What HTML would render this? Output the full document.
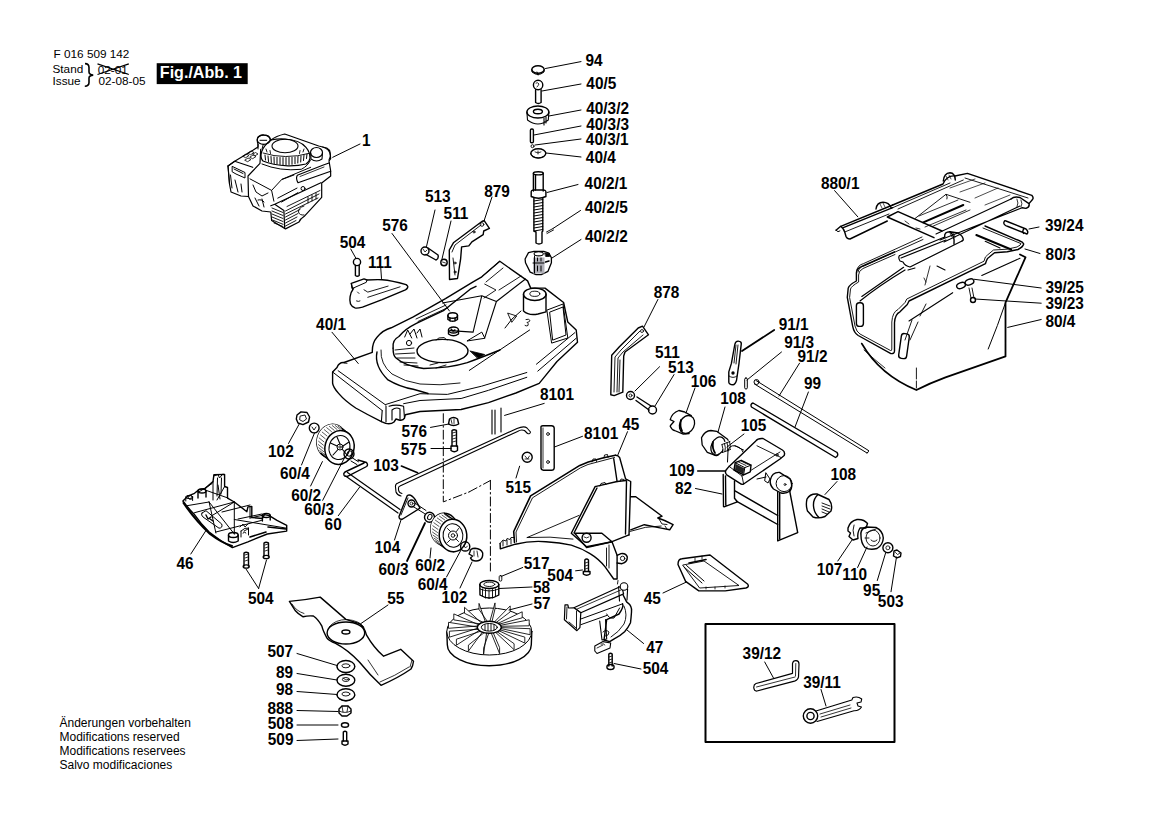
<!DOCTYPE html>
<html><head><meta charset="utf-8"><title>Parts diagram</title>
<style>
html,body{margin:0;padding:0;background:#fff;}
body{width:1168px;height:825px;overflow:hidden;position:relative;}
svg{position:absolute;left:0;top:0;}
</style></head><body>
<svg width="1168" height="825" viewBox="0 0 1168 825">
<g fill="none" stroke="#000" stroke-width="1.4" stroke-linejoin="round" stroke-linecap="round">
<!-- toolbox -->
<rect x="705.5" y="624" width="189" height="118" stroke-width="2"/>

<!-- ENGINE (1) -->
<g id="engine" stroke-width="1.1">
<!-- silhouette -->
<path d="M228,166 L234.7,161.3 L253.3,150 L258,147 L258,144.3 Q256.5,140 258,137 Q261,134.5 264,135 Q269.5,135 270.3,139 L271,140 Q276,136 284.7,134 L318.7,146 L326.7,148 Q330,150 330,152 L330.7,158.7 L329,161 L330.6,170.4 L330.7,176 L321.7,183 L321.7,197.3 L304,216.6 Q300,219 299,222 L285.5,228.9 L271.6,220.5 L270.8,212 L262,211 L253,206 L248.5,196.5 L241,196 L231,192 L229.5,184 Z" stroke-width="1.2"/>
<!-- oil cap -->
<ellipse cx="263.7" cy="139.7" rx="6.5" ry="4.6" stroke-width="1.2"/>
<path d="M260,140.3 L266.7,140.3 M258,144.3 L258,149 M263.3,144.3 L262,149" stroke-width="1"/>
<!-- top-left edge and grille -->
<path d="M228,166 L234.7,161.3 L252.7,167.3 M260.7,149.3 L260,163.3 L248,176 L248.5,196.5" stroke-width="1.2"/>
<path d="M243,156 l3,-2 l3,1.5 l-3,2 Z M248,153 l3,-2 l3,1.5 l-3,2 Z M245,160 l3,-2 l3,1.5 l-3,2 Z M250,157 l3,-2 l3,1.5 l-3,2 Z M253,154 l2.5,-1.5 l2.5,1.5 l-2.5,1.5 Z" stroke-width="0.8"/>
<!-- left box (air filter) -->
<path d="M228,166 L229.5,184 M232.5,166.5 L245,172.5 L245,178 L236,174 L232.5,172 Z M234,169 L243,173.5 M230.5,175 L232,188 M235,180 L238,192 M241,184 l1,8" stroke-width="1"/>
<!-- starter -->
<path d="M271,140 Q278,138.5 285,139 Q300,140 306,147.3 Q310,152 310,158 Q309.5,162 306,164 Q298,166 288,165.8 Q272,165 263,161 Q260,158 261.5,152 Q264,145 271,140 Z" stroke-width="1.2"/>
<ellipse cx="285" cy="146" rx="13" ry="6.8" stroke-width="1.1"/>
<path d="M263,153 Q285,160 309.5,153.3" stroke-width="0.9"/>
<path d="M265,155 l0.5,5 M268,156 l0.5,5.5 M271,156.5 l0.3,6 M274,157 l0.2,6.5 M277,157.3 l0,6.7 M280,157.5 l0,7 M283,157.6 l0,7 M286,157.6 l0,7 M289,157.5 l0,7 M292,157.3 l0,7 M295,157 l0,6.7 M298,156.5 l-0.2,6.5 M301,156 l-0.3,6 M304,155 l-0.5,5.5 M307,154 l-0.5,4.5" stroke-width="1"/>
<path d="M266,149 l1,3 M270,150.5 l0.5,3 M300,150.5 l-0.5,3 M304,149 l-1,3" stroke-width="0.9"/>
<path d="M262,164 Q280,171.5 301.3,169.3 Q308,166 310.5,160" stroke-width="1"/>
<!-- right cap -->
<ellipse cx="316.5" cy="152.5" rx="6" ry="5" stroke-width="1.2"/>
<path d="M310.7,153 L311,159 Q316.5,163 322,159 L322.5,153 M322.7,147 Q330,149 330.5,156 L329,160" stroke-width="1.1"/>
<!-- handle bar -->
<path d="M297.3,175.3 L322.7,165.3 M298,182.7 L330.7,171.3 M297.3,175.3 Q295.5,178 298,182.7 M322.7,165.3 L329,163" stroke-width="1.2"/>
<path d="M300,176.5 L324,167" stroke-width="0.8"/>
<!-- block edges -->
<path d="M250,178.9 L271.6,190.4 L273.9,201.2 M271.6,190.4 L281.6,179.6 L294,175 M282,179.3 L310.7,167.3" stroke-width="1"/>
<path d="M277.8,198.1 L297,188.1 M281.6,202 L297.8,192.7" stroke-width="1"/>
<circle cx="303" cy="188.5" r="2" stroke-width="1"/>
<!-- cylinder head front -->
<path d="M270.8,205.8 L274.7,204.3 L283.9,210.4 L284.7,228.2 M274.7,204.3 L320.9,182.7" stroke-width="1.2"/>
<path d="M272,208 l11,4.5 M272,211 l11,4.5 M272,214 l11,4.5 M272,217 l11,4.5 M272.5,220 l10.5,4.3 M274,223 l9,3.5" stroke-width="0.9"/>
<path d="M285.5,211 L319,194 M285.5,214 L318,198 M285.5,217 L300,209.5 M285.5,220 L298,213.5 M285.5,223 L297,217 M285.5,226 L296,220.5 M287,206.5 L320,190.5" stroke-width="0.9"/>
<path d="M304,206 Q298,208 298.5,212 Q299.5,215.5 304,215 M308,197 l0,6 M312,195 l0,6 M316,193 l0,6" stroke-width="0.9"/>
<!-- lower left crankcase details -->
<path d="M253,185 L256,192 L262,196 L268,193 M255,198 L259,206 M262,199 L264,207 M258,200 q4,-1 6,2" stroke-width="1"/>
</g>
<!-- DECK 40/1 -->
<g id="deck">
<!-- outer outline -->
<path d="M332.6,372 L337,367.5 Q339,362 344,362.5 L372.3,352.3 Q372,343 377,337.3 Q383,330 391.2,327.8 L413.3,316.8 L445.5,298.6 L473.1,281.9 L481.8,276.8 L499.8,261.3 L527.6,280.9 L530.7,288.1 L545,288.1 L563.6,302.5 L567.8,322.1 L576.2,330 L577.5,342.3 L557,361.5 L544.7,376.6 L539.2,383.4 L515.9,393 L488.5,402.6 L461.1,409.5 L420,411.5 L405.3,414.8 L404.5,418.2 Q403,421 399,420 L396,419 L394,422 Q391,424.5 385.7,423.4 L381.4,421.6 Q368,415 355.7,408 Q345,401 338.6,393.4 Q333,387 332.6,383.1 Z" stroke-width="1.4"/>
<!-- skirt lines -->
<path d="M332.6,372 L382.2,410.5 M338.1,370.7 L385.7,405 M385.7,404.5 L420,393.7 L447.4,394.4 L481.6,386.2 L526.8,372.5 M403.6,403.7 L420,400.5 L461.1,398.5 L488.5,390.3 L526.8,377.3 M536.4,364.2 L574.8,332.7 M537.8,371.1 L576.2,338.2 M469.3,370.4 L529.6,330" stroke-width="1"/>
<!-- hinge -->
<path d="M382.2,410.5 L381.4,421.6 M386,406 L386,422 M389,406.2 Q396,404 403.6,406.2 L404.5,418.2 M392,420 L392,410 Q396,406.5 400,409 L400,419.5" stroke-width="1.1"/>
<!-- top lines -->
<path d="M344,363 L347,363.3 M416,319 L446,305 M418,321.5 L448,307.5" stroke-width="0.9"/>
<!-- inner dome ring -->
<path d="M393.1,348.1 Q392,340 398.9,336.5 Q405,329 416.4,323.4 L444,310.3 L470.2,289.2 L476,286.3"/>
<path d="M393.1,348.1 Q393,356 396,358 Q405,366 423.6,368.5 Q450,368 467.3,362.6 Q480,358 500,350"/>
<path d="M377,352 Q374,366 388,379.9 Q400,387 413.3,389.3 Q420,391 428,393.5"/>
<path d="M381,350 Q380,364 392,374 Q405,382 420,384 Q440,386 460,383" stroke-width="0.9"/>
<!-- fan opening -->
<ellipse cx="442.5" cy="351" rx="25.5" ry="11.6"/>
<path d="M436,340 Q438,337 444,337.5 L447,340" stroke-width="0.9"/>
<path d="M395,350 l19,-2 M395.5,354 l19,-1 M397,358 l18,0 M400,362 l17,1 M404,365 l14,1" stroke-width="0.9"/>
<path d="M404.7,337 l3,-7 l4,8 M410,334 l4,-5 l3,9 M417,333 l3,-4 l2,8" stroke-width="1"/>
<circle cx="409" cy="343" r="2.6" stroke-width="1"/>
<path d="M470.2,351 L484.7,354.5 L478,358.3 Z" fill="#000" stroke-width="0.8"/>
<path d="M430,365 l8,-2 M436,368 l10,-3" stroke-width="0.9"/>
<!-- chute channel -->
<path d="M442.5,303 L481.8,295.7 L496.4,301.5 L525.5,279 M481.8,295.7 L473.1,332.1 M496.4,301.5 L484.7,337.9 M449.8,330.6 L473.1,332.1" stroke-width="1.1"/>
<path d="M467.3,340.8 L481.8,332.1 L484.7,337.9 Z" stroke-width="1"/>
<path d="M481.8,276.8 L499.3,261.5 M486,282 L503,268 M499,290 L521,276 M484.7,284.1 L496,290 L484,298" stroke-width="0.9"/>
<path d="M508,313.2 L516.7,316 L512,322 Z" stroke-width="0.9"/>
<path d="M526,319.5 q3,-1 4,1 q-1,2 -3,2 q2,1 1,3 q-2,1 -3,0" stroke-width="0.9"/>
<!-- boss -->
<ellipse cx="534.8" cy="294.3" rx="11.3" ry="6.2"/>
<ellipse cx="534.8" cy="293.8" rx="5" ry="2.6" stroke-width="0.9"/>
<path d="M523.5,294.3 L523.5,311 Q529,316 538,314 L546,311.8 L546,294.3"/>
<path d="M521,311 L512,319 L505,328" stroke-width="1"/>
<!-- right window -->
<path d="M547.2,310 L563,304 L567.8,338 L552,343 Z M550,312 L563,307 L566,335 L553,340 Z" stroke-width="1"/>
<!-- long surface lines -->
<!-- nuts on deck -->
<ellipse cx="452.7" cy="315.5" rx="4.8" ry="2.8"/>
<path d="M447.9,315.5 L447.9,319.5 Q452.7,323 457.5,319.5 L457.5,315.5 M450,318 l0,3 M455,318 l0,3"/>
<ellipse cx="453.5" cy="330" rx="5" ry="3"/>
<path d="M448.5,330 L448.5,334 Q453.5,337.5 458.5,334 L458.5,330 M451,329 l2,2 l2,-1"/>
</g>
<!-- GRASS CATCHER -->
<g id="bag">
<!-- top plate / frame 880/1 -->
<path d="M892.7,205 L943,184 Q947,175 955,176 L967.4,173.4 L1031.8,195.3 Q1034,198 1032.5,199.5 L1029,203.6"/>
<path d="M892.7,207.7 L950,183 M898,209 L963.3,180 M965,178 L1028,198" stroke-width="0.9"/>
<path d="M943.3,181 Q944,173 950,172.7 Q955,173 955.3,180" />
<path d="M946,176 l2,4 M949,175 l2,4" stroke-width="0.7"/>
<!-- left rail (handle channel) -->
<path d="M836,230.3 L840.7,226.3 L892.7,205 M843.3,227.7 L892.7,207.7 M840.7,226.3 Q844,229 844.7,232 L846,236.5 Q847,239 850,239 L887.3,221" />
<path d="M844.7,232 L889,214" stroke-width="0.9"/>
<path d="M836,230.3 Q838,233 840,231" stroke-width="1"/>
<path d="M876,209 Q877,202.3 883,202.3 Q889,202.3 891.3,208" />
<path d="M880,204 l2,4 M883,203 l2,4" stroke-width="0.7"/>
<!-- cross piece -->
<path d="M887.3,217 L934,237.7 M898,211.7 L942,231 M887.3,217 L898,211.7" />
<path d="M905,221 L909,224 M916,228 L920,229" stroke-width="0.8"/>
<!-- inner plate -->
<path d="M915.3,218.3 L946,194.3 L970,202.3 M946,194.3 Q948,197 947,199" stroke-width="0.9"/>
<path d="M923.3,222.3 L963.3,205" stroke-width="2"/>
<path d="M919,216 L958,200 M925,227 L966,210 M932.7,226.3 L970,210" stroke-width="0.8"/>
<path d="M960,192 L985,183 M975,198 L998,188 M985,205 L1010,195 M950,188 L975,179" stroke-width="0.7"/>
<!-- front rail (upper long) -->
<path d="M936,234 L1011,199 M940,240 L1022.2,207.7 M944,242 L1020,206" stroke-width="1.1"/>
<path d="M1011,199 Q1014,196 1020,197.5 L1029,203.6 Q1030,207 1026,208.4 L1022.2,207.7" />
<path d="M1017,199 q2,4 0,8 M1021,200 q2,4 0,7" stroke-width="0.8"/>
<!-- front handle tube (lower) -->
<path d="M899.3,255.7 L944.7,237 M901,258 L946,240 M910,267 L962,241 M899.3,255.7 Q898,258 900,261 L903,262 Q905,266 910,267" stroke-width="1.2"/>
<path d="M944.7,237 Q944,231.7 950,231.7 L958,233 Q963.3,236 963.3,240 L962,241 M950,231.7 Q955,236 954,244" />
<path d="M950,233 l2,4 M953,233 l2,4" stroke-width="0.8"/>
<!-- lower-left wire -->
<path d="M856.7,270.3 Q858,265 863.3,263.7 L922,237 M858,272 Q859,267 864,266 L923,239.5" stroke-width="0.9"/>
<!-- 39/24 pin -->
<path d="M1006,221 L1026,229 Q1029,232 1027,234 L1008,226.5 Q1003,225 1004,222 Q1005,220 1006,221 Z M1024,228.5 Q1022,231 1023.5,233.5" />
<!-- wire frame 80/3 -->
<path d="M894.5,251.8 L861.8,266.4 Q856,269 856.4,273.6 L856.4,281 Q849,285 848.2,288.2 L847.3,297.3 L852.7,326.4 Q854,333 858.2,335.5 L890.9,353.6 Q894.5,354 894.5,351 L894.5,322.7 Q895,314 900,311.8 L907.3,304.5 L909,301 L985.5,263.6 Q987,258 989,257.3 L994.5,252.7 L1007.3,251.8 L1018,249.5 Q1023,247 1023.7,244 Q1023,242 1020,241 L985,226" />
<path d="M895,254.5 L863,268.5 Q858.5,271 858.6,275 L858.6,282 Q851.5,286 850.5,289 L849.6,297.5 L855,326 Q856.5,332 860,334 L890.5,350.5 Q891.8,351 891.8,349 L891.8,322 Q892.5,312 898,309.5 L905,302.5 L906.8,299 L984,261.2 Q985,256 987.5,255 L993.5,250 L1007,249.2 L1017,247 Q1021,245 1021,243.6 L983,228" stroke-width="0.9"/>
<!-- tubes on wire -->
<rect x="856.4" y="302.7" width="7" height="23.7" rx="3"/>
<rect x="900" y="333.6" width="8" height="25" rx="3" transform="rotate(8 904 346)"/>
<!-- bag body -->
<path d="M861.8,343.6 Q880,375 916.4,390 Q930,383 945.5,377.3 L1005.5,356.4 L1005.5,302.7 L1025.5,257.3 L1020,254.5" stroke-width="1.8"/>
<path d="M1005.5,302.7 Q998,325 988.2,349" stroke-width="1"/>
<path d="M861.8,296.4 L903.6,267.3 M860,301 Q880,285 905,270" stroke-width="1.2"/>
<path d="M909,321 L952.7,292.7 M981.8,275.5 L1020,258.2 M908,270 L915,268 M937,266 L945,270 M985.2,241.2 L1000,248" stroke-width="1.1"/>
<path d="M916.4,368 L916.4,379 M916.4,381 L916.4,388 M912,320 L905,340 M918,322 L910,340 M926,304 L920,316" stroke-width="0.9"/>
<path d="M864,350 Q875,360 885,368 M930,266 L925,285 M924,278 L926,282" stroke-width="0.8"/>
<path d="M976.3,235 L1011.2,249.5" stroke-width="1.9"/>
<!-- clips 39/25 & screw 39/23 -->
<ellipse cx="961" cy="285.5" rx="4.5" ry="2.8" transform="rotate(-20 961 285.5)"/>
<ellipse cx="969.5" cy="282" rx="4.5" ry="2.8" transform="rotate(-20 969.5 282)"/>
<path d="M969,288 L971,298 M972,288 L974,298" stroke-width="0.9"/>
<circle cx="973" cy="300" r="2.5"/>
</g>
<!-- TOP COLUMN 40/x -->
<g id="column">
<!-- 94 cap -->
<ellipse cx="538" cy="69.5" rx="6.2" ry="3.8"/>
<path d="M531.8,69.5 L532,72 Q538,77 544,72 L544.2,69.5 M537,72 l1,3" stroke-width="1"/>
<!-- 40/5 bolt -->
<circle cx="538.1" cy="85" r="4.7"/>
<path d="M536,83 q2,-1 3,1 q-1,2 -2,3" stroke-width="0.8"/>
<path d="M535.6,89.7 L535.6,102.5 Q538.3,104.5 541.1,102.5 L541.1,89.7"/>
<!-- 40/3/2 nut -->
<ellipse cx="537.9" cy="112" rx="11" ry="6"/>
<ellipse cx="537.9" cy="111.5" rx="4.5" ry="2.3"/>
<path d="M526.9,112 L527.5,120 Q537.9,128 548.3,120 L548.9,112 M544,118 L544,125 M546,117 L546,123" stroke-width="1.1"/>
<!-- 40/3/3 pin -->
<rect x="530.4" y="129" width="3" height="13.7" rx="1.3"/>
<!-- 40/3/1 -->
<circle cx="532.5" cy="146.2" r="1.5" stroke-width="0.9"/>
<!-- 40/4 washer -->
<ellipse cx="538.3" cy="153.3" rx="7.5" ry="4.6"/>
<path d="M535,152 q3,2 6,0 M538,151 l0,3" stroke-width="0.8"/>
<path d="M530.8,153.5 Q531,157 538.3,158.3 Q545.6,157 545.8,153.5" stroke-width="0.9"/>
<!-- 40/2/1 spindle -->
<ellipse cx="538.3" cy="173.3" rx="4.9" ry="1.6"/>
<path d="M533.4,173.3 L533.4,191 M543.2,173.3 L543.2,191 M535.5,175 L535.5,190" />
<path d="M531.2,192 Q531,190 534,190 L543,190 Q546,190 545.9,192 L545.9,196.5 Q538.5,200 531.2,196.5 Z"/>
<path d="M533.9,198.5 L533.9,231 L536,232 L536,243 Q539,245 542,243 L542,232 L542.8,231 L542.8,198.5"/>
<path d="M534,201 l8.8,-1.5 M534,204 l8.8,-1.5 M534,207 l8.8,-1.5 M534,210 l8.8,-1.5 M534,213 l8.8,-1.5 M534,216 l8.8,-1.5 M534,219 l8.8,-1.5 M534,222 l8.8,-1.5 M534,225 l8.8,-1.5 M534,228 l8.8,-1.5 M534,231 l8.8,-1.5" stroke-width="1"/>
<!-- 40/2/5 pin -->
<path d="M546.5,232 L553,228.5 M547,233.5 L553.5,230" stroke-width="0.9"/>
<!-- 40/2/2 knob -->
<path d="M525.1,259 L528.5,252.6 L534,251.4 L543.8,251.4 L548.8,253 L551.4,257.7 L551.4,262.8 L548,271.3 L541.2,274.7 L536.1,274.7 L530.2,272.1 L525.5,262.8 Z" stroke-width="1.3"/>
<path d="M533,257.5 L544.5,257.5 L544.5,273.5 L533,273.5 Z" fill="#b0b0b8" stroke="none"/>
<ellipse cx="538.7" cy="253.8" rx="4.6" ry="2.1" stroke-width="1.1"/>
<path d="M534.5,256 L534.5,273 M533,263 L544,263 M537.5,258 l0,3 M541,258 l0,3 M537.5,266 l0,5 M541,266 l0,5" stroke-width="1"/>
<path d="M545.5,262 L549,261" stroke-width="1.5"/>
<path d="M545,253 L549.5,253.5 L549.5,256.5 L546,256.5 Z" fill="#000" stroke-width="0.8"/>
</g>

<!-- 879 bracket + 513 + 511 (top) -->
<g id="b879">
<path d="M449.5,279.5 L449.3,250 L453.4,242.8 L482.2,221.2 L484.2,220.7 L489.4,228.4 L483.7,231 L483.2,234.6 L471.9,241.8 L468.8,245.9 L461.6,246.9 L460.6,259.2 L457.5,278.5 Z"/>
<path d="M452,252 L455,245 L481,225 M453,258 L455,275" stroke-width="0.9"/>
<circle cx="482" cy="224.5" r="1.8" stroke-width="0.9"/>
<circle cx="474" cy="232" r="1" stroke-width="0.9"/>
<circle cx="455" cy="263" r="1" stroke-width="0.9"/>
<circle cx="455" cy="272" r="1" stroke-width="0.9"/>
<circle cx="425" cy="251" r="4"/>
<path d="M423,249 l2,3 l2,-2" stroke-width="0.8"/>
<path d="M428,248 L438,255 M426,254.5 L436,260 M436,260 Q439,259 438,255" />
<circle cx="444" cy="262.5" r="3.2"/>
<path d="M442.5,262 l3,1" stroke-width="0.8"/>
<!-- 504 top screw -->
<circle cx="357" cy="262" r="3.6"/>
<path d="M355.4,265.3 L355.4,275.5 Q357.3,277 359.2,275.5 L359.2,265.3" />
</g>

<!-- 111 -->
<path d="M350.5,304.1 Q349.5,299 350.1,296.6 Q350.8,292 352.8,289.8 L351.3,283.4 L364,278.9 L367,280 Q375,279.5 382.1,279.7 Q392,280.5 406.1,284.6 Q408.5,286.5 407.6,287.6 Q407,289 405.4,289.8 L382.1,299.6 L362.5,307.1 Q357,308.5 355,307.9 Q351.5,306.5 350.5,304.1 Z"/>
<path d="M351.3,283.4 L352,288.5 L354.3,287.6 L366.3,282.3 L367,280 M354.3,287.6 L352.8,289.8" stroke-width="1"/>
<path d="M364,289.8 L367.8,292.1 L388.1,286.1 M367.8,297.3 L400.1,286.8" stroke-width="0.9"/>
<path d="M357.5,292 l1.5,1.5 M356.5,301 q2,1 3.5,0" stroke-width="0.9"/>

<!-- 878 bracket -->
<path d="M610.8,394.7 L611.7,355.3 L619.4,346.8 L638.2,328 L642.5,326.2 L648.5,334.8 L625,352 L623.7,356 L622.8,392.2 L614.2,395.6 Z"/>
<path d="M614,392 L615,357 L621,350 L640,331 M617,392 L618,358 L623,352 L643,335 M619,392 L620,360" stroke-width="0.9"/>
<circle cx="642" cy="331" r="1.5" stroke-width="0.8"/>
<!-- 511/513 mid -->
<circle cx="630.5" cy="395.5" r="4"/>
<circle cx="630.5" cy="395.5" r="1.5" stroke-width="0.8"/>
<path d="M637,397 L651,406 M636,400.5 L649,410" />
<circle cx="652.5" cy="410" r="4"/>

<!-- 91/1 lever -->
<path d="M738.2,341.1 Q741.5,341.5 741.3,343.7 L739,363.4 L736.5,380.5 Q735,384.8 733,384.8 Q729,384.5 728.8,382.2 L728.8,371.9 L731.4,363.4 L734.8,344.5 Q735.5,341 738.2,341.1 Z"/>
<path d="M736,345 L734,363 M738,345 L736,364 M729,376 Q733,379 737,376" stroke-width="0.9"/>
<circle cx="733" cy="373" r="1" fill="#000"/>
<!-- 91/3 pin -->
<rect x="744.7" y="378" width="2.6" height="11" rx="1.2" stroke-width="1"/>
<!-- 91/2 rod -->
<path d="M756,380.5 L868.5,450.5 M754.5,384 L867,453 M868.5,450.5 Q869.5,452 867,453" stroke-width="1"/>
<circle cx="756.5" cy="382" r="2.5" stroke-width="1"/>
<!-- 99 rod -->
<path d="M753,403 L837,452.5 M751.5,407 L835.5,457.5 M837,452.5 Q839,455.5 835.5,457.5 M753,403 Q750,404 751.5,407"/>
<!-- 106 -->
<path d="M670.2,419.6 Q672,413 678.9,410.5 L684.7,412 L691.3,415.6 M670.2,419.6 L674,421.5 L670.5,425.5 L670.2,426.2 Q672,430 674.5,430.5 L683.3,434.2 L689.1,433.5" stroke-width="1.3"/>
<ellipse cx="687" cy="424.5" rx="7.2" ry="9.3" transform="rotate(25 687 424.5)" stroke-width="1.3"/>
<path d="M681,420 Q679.5,426 682,431" stroke-width="1.8"/>
<!-- 108 upper -->
<path d="M701.5,437.8 Q705,430.5 710.9,430.5 L716.7,431.3 L727.6,439.3 Q729,441 728.4,441.5 M701.5,437.8 L702.2,445 L707.3,452.4 L715.3,455.3 Q718,456 719,454" stroke-width="1.3"/>
<ellipse cx="718" cy="446" rx="6.5" ry="9.5" transform="rotate(25 718 446)" stroke-width="1.3"/>
<path d="M713,442 Q712,448 715,453" stroke-width="1.8"/>
<path d="M721.5,443 L729,440.5 L731,449 L724,452 Z" fill="#fff" stroke="none"/>
<path d="M722,444.5 q1.5,4 0.5,8 M724.5,443.5 q1.5,4 0.5,8 M727,442.5 q1.5,4 0.5,8 M729.5,441.5 q1.5,4 0.5,7.5 M722,444.5 L730,441.5 M722.5,452.5 L730.5,449.5" stroke-width="0.9"/>
<!-- REAR WHEEL ASSEMBLY -->
<g id="rearwheel">
<!-- 102 nut -->
<path d="M297,415 L301,411.9 L307,412.5 L309.6,417 L308.5,422 L303,424.6 L298,423 L296.3,419 Z"/>
<path d="M300.5,416 L305,415 L306.5,419 L303,421.5 L300,420 Z" stroke-width="0.9"/>
<!-- 60/4 washer -->
<circle cx="314.2" cy="428" r="4.9"/>
<path d="M312,427 l2,3 l2,-3" stroke-width="0.9"/>
<!-- wheel -->
<ellipse cx="331.5" cy="441" rx="14.5" ry="17" transform="rotate(15 331.5 441)" fill="#fff"/>
<polygon points="320.7,453.3 319.9,452.4 319.3,451.4 318.7,450.3 318.1,449.2 317.7,448.0 317.4,446.8 317.1,445.5 316.9,444.3 316.8,442.9 316.8,441.6 316.9,440.3 317.1,439.0 317.4,437.7 317.7,436.4 318.2,435.1 318.7,433.9 319.3,432.7 320.0,431.6 320.8,430.5 321.6,429.5 322.4,428.6 323.4,427.7 324.4,427.0 325.4,426.3 326.5,425.7 327.6,425.2 328.7,424.8 329.8,424.5 331.0,424.3 332.1,424.2 333.3,424.2 334.4,424.3 335.5,424.5 336.6,424.8 337.7,425.2 338.7,425.7 339.7,426.3 340.6,427.0 341.5,427.8 342.3,428.7 350.3,435.2 349.5,434.3 348.6,433.5 347.7,432.8 346.7,432.2 345.7,431.7 344.6,431.3 343.5,431.0 342.4,430.8 341.3,430.7 340.1,430.7 339.0,430.8 337.8,431.0 336.7,431.3 335.6,431.7 334.5,432.2 333.4,432.8 332.4,433.5 331.4,434.2 330.4,435.1 329.6,436.0 328.8,437.0 328.0,438.1 327.3,439.2 326.7,440.4 326.2,441.6 325.7,442.9 325.4,444.2 325.1,445.5 324.9,446.8 324.8,448.1 324.8,449.4 324.9,450.8 325.1,452.0 325.4,453.3 325.7,454.5 326.1,455.7 326.7,456.8 327.3,457.9 327.9,458.9 328.7,459.8" fill="#fff" stroke="none"/>
<path d="M320.7,453.3 L328.7,459.8"/>
<path d="M342.3,428.7 L350.3,435.2"/>
<path d="M321.4,453.5 L326.2,457.4 M319.9,450.8 L324.7,454.7 M318.9,447.8 L323.7,451.7 M318.4,444.6 L323.2,448.5 M318.6,441.3 L323.4,445.2 M319.2,438.0 L324.0,441.9 M320.5,434.9 L325.3,438.8 M322.2,432.1 L327.0,436.0 M324.3,429.7 L329.1,433.6 M326.7,427.7 L331.5,431.6 M329.4,426.4 L334.2,430.3 M332.3,425.6 L337.1,429.5 M335.2,425.5 L340.0,429.4 M338.0,426.0 L342.8,429.9 M340.6,427.2 L345.4,431.1 M342.9,428.9 L347.7,432.8" stroke-width="0.65"/>
<ellipse cx="339.5" cy="447.5" rx="14.5" ry="17" transform="rotate(15 339.5 447.5)" fill="#fff" stroke-width="1.5"/>
<ellipse cx="339.5" cy="447.5" rx="10.4" ry="12.2" transform="rotate(15 339.5 447.5)" stroke-width="1"/>
<circle cx="340" cy="447" r="3" stroke-width="1"/>
<circle cx="340" cy="447" r="1.2" stroke-width="0.8"/>
<path d="M340,444 L337,437 M343,446 L349,442 M342.5,449.5 L347,455 M338,449.5 L333,455 M337,446 L330.5,443" stroke-width="1.1"/>

<!-- 60/3 bushing -->
<circle cx="349" cy="454" r="5"/>
<ellipse cx="349.5" cy="453.5" rx="2.2" ry="2.8" transform="rotate(30 349.5 453.5)" stroke-width="1"/>
<!-- axle 60 -->
<path d="M352.5,458 L358.5,461.8 M351,461 L357,464.6" stroke-width="1"/>
<path d="M358,460 L366.5,462.5 Q368.5,465 366.6,466.5 L347.5,476.3 Q343.5,477 343.8,473.5 L345,472 L364,463"/>
<path d="M345.5,476 L398,513 M347.5,472.5 L400,509.5" stroke-width="1.2"/>
</g>

<!-- 46 chassis -->
<g id="chassis46">
<path d="M182.9,501 Q188,508 194.5,514.6 Q201,524 209.1,532.1 Q220,541 232.4,547.6 L247.9,541.8 L267.3,534 L286.7,531.1 L286.7,525.3 L277,520.4 L269.2,515.6 L264.4,514.6 L262.4,518.5 L251.8,517.5 L251.8,506.4 L247.9,506.9 L246.9,511.7 L234.3,502 L227.5,498.1 L227.5,487.5 L224.6,486.5 L224.6,474.4 L213.9,474.8 L213,481.6 L205.2,488.4 L199.4,489.4 L194.5,493.3 L187.8,496.2 Z"/>
<path d="M183.5,503 Q195,520 210,534 Q222,543 232,546" stroke-width="2"/>
<path d="M185.8,505.9 L209.1,502 M194.5,512.7 L234.3,502 M209.1,502 L215.9,533 M234.3,502 L234.3,534 M215.9,532 L261.5,520.4 M234.3,519.5 L286.7,528.2 M213,481.6 L213,500 M224.6,486.5 L217,500 M205,490 L228,498 M218,485 L220,499 M250,518 L264,515" stroke-width="1"/>
<path d="M202,513 L206,510.7 L221.7,524 Q223,528 219,528.2 L203,517 Q200.5,515 202,513 Z" stroke-width="1"/>
<path d="M206,515 l2,4 l3,-2 M210,519 l3,2" stroke-width="1.4"/>
<path d="M228.5,535 L228.5,541 Q233,544 238.2,541 L238.2,535" />
<ellipse cx="233.3" cy="535" rx="4.8" ry="2.5"/>
<ellipse cx="266.3" cy="515.5" rx="3.9" ry="2"/>
<path d="M262.4,515.5 L262.4,521 M270.2,515.5 L270.2,520" />
<ellipse cx="202" cy="491" rx="4" ry="2"/>
<path d="M198,491 L198,498 M206,491 L206,497" />
<circle cx="190.5" cy="497.5" r="2" stroke-width="0.9"/>
<path d="M240,527 l3,-3 l2,3 l3,-3 M244,531 l4,-2" stroke-width="0.9"/>
<path d="M268,527 L286,529 M250,537 L266,532" stroke-width="1.6"/>
<path d="M217.5,478 L217,496 M221.5,478 L221,494 M213.5,476 L218,474.5 L219.5,478 L222.7,474 M212,483.6 L198.4,492.3 M209.1,502 L234.3,534 M212,515.6 L234.3,502 M222,512 L250,505 M238,519 L262,514 M250,507 L250,518" stroke-width="1"/>
<ellipse cx="189.2" cy="497" rx="3.4" ry="1.6" stroke-width="1"/>
<path d="M185.8,497 L185.8,501 M192.6,497 L192.6,500.5" stroke-width="1"/>
<path d="M241,531 L241,537 M248.5,528 L248.5,535 M241,531 Q245,527 248.5,528 M243,533 q2,-2 3,0" stroke-width="1"/>
</g>
<!-- 504 screws (left) -->
<path d="M244,553 L244,566 M248.5,553 L248.5,566 M244,553 Q246,551.5 248.5,553" />
<ellipse cx="246.2" cy="566.5" rx="3" ry="1.6"/>
<path d="M245,555 l3,-1 M245,558 l3,-1 M245,561 l3,-1" stroke-width="0.8"/>
<path d="M264,543 L264,556 M268.5,543 L268.5,556 M264,543 Q266,541.5 268.5,543" />
<ellipse cx="266.2" cy="557" rx="3" ry="1.6"/>
<path d="M265,545 l3,-1 M265,548 l3,-1 M265,551 l3,-1" stroke-width="0.8"/>

<!-- 104 bracket -->
<path d="M399,516.4 L407.3,495.5 Q411,493.5 415.5,500 L420,508.2 L402.7,519 Q399,520 399,516.4 Z"/>
<path d="M401,515 L408,498" stroke-width="0.9"/>
<circle cx="411.5" cy="503.5" r="3.5"/>
<circle cx="411.5" cy="503.5" r="1.5" stroke-width="0.8"/>
<path d="M413,506.5 L424.5,513.5 M415.5,503.5 L426,510.5" stroke-width="1"/>
<!-- front wheel 60/3, 60/2, 60/4, 102 -->
<circle cx="429.5" cy="517.3" r="5"/>
<ellipse cx="429.8" cy="517" rx="2" ry="2.8" transform="rotate(30 429.8 517)" stroke-width="1"/>
<ellipse cx="444.5" cy="529.5" rx="13.8" ry="16.3" transform="rotate(-5 444.5 529.5)" fill="#fff"/>
<polygon points="444.7,545.8 443.6,545.7 442.6,545.5 441.5,545.3 440.4,544.9 439.4,544.5 438.4,543.9 437.5,543.3 436.6,542.5 435.7,541.7 434.9,540.9 434.1,539.9 433.4,538.9 432.8,537.8 432.3,536.7 431.8,535.5 431.4,534.3 431.1,533.1 430.9,531.8 430.7,530.6 430.7,529.3 430.7,528.0 430.8,526.7 431.0,525.5 431.3,524.3 431.6,523.1 432.1,521.9 432.6,520.8 433.2,519.8 433.9,518.8 434.6,517.8 435.4,517.0 436.2,516.2 437.1,515.5 438.0,514.9 439.0,514.4 440.0,513.9 441.1,513.6 442.1,513.4 443.2,513.3 444.3,513.2 452.8,519.2 451.7,519.3 450.6,519.4 449.6,519.6 448.5,519.9 447.5,520.4 446.5,520.9 445.6,521.5 444.7,522.2 443.9,523.0 443.1,523.8 442.4,524.8 441.7,525.8 441.1,526.8 440.6,527.9 440.1,529.1 439.8,530.3 439.5,531.5 439.3,532.7 439.2,534.0 439.2,535.3 439.2,536.6 439.4,537.8 439.6,539.1 439.9,540.3 440.3,541.5 440.8,542.7 441.3,543.8 441.9,544.9 442.6,545.9 443.4,546.9 444.2,547.7 445.1,548.5 446.0,549.3 446.9,549.9 447.9,550.5 448.9,550.9 450.0,551.3 451.1,551.5 452.1,551.7 453.2,551.8" fill="#fff" stroke="none"/>
<path d="M444.7,545.8 L453.2,551.8"/>
<path d="M444.3,513.2 L452.8,519.2"/>
<path d="M445.1,546.9 L450.2,550.5 M442.4,546.2 L447.5,549.8 M439.9,545.0 L445.0,548.6 M437.6,543.1 L442.7,546.7 M435.7,540.9 L440.8,544.5 M434.1,538.2 L439.2,541.8 M433.0,535.2 L438.1,538.8 M432.5,532.1 L437.6,535.7 M432.4,528.9 L437.5,532.5 M432.9,525.8 L438.0,529.4 M433.9,522.8 L439.0,526.4 M435.4,520.2 L440.5,523.8 M437.3,518.0 L442.4,521.6 M439.5,516.2 L444.6,519.8 M442.0,515.1 L447.1,518.7 M444.6,514.5 L449.7,518.1" stroke-width="0.65"/>
<ellipse cx="453" cy="535.5" rx="13.8" ry="16.3" transform="rotate(-5 453 535.5)" fill="#fff" stroke-width="1.5"/>
<ellipse cx="453" cy="535.5" rx="9.9" ry="11.7" transform="rotate(-5 453 535.5)" stroke-width="1"/>
<circle cx="453" cy="535.5" r="4.5" stroke-width="1"/>
<circle cx="453" cy="535.5" r="1.8" stroke-width="0.9"/>
<path d="M447.5,528.5 l3,3 M458.5,528.5 l-2,3 M447.5,542.5 l3,-3 M458.5,541.5 l-3,-3" stroke-width="0.9"/>

<circle cx="465.2" cy="546.4" r="4.6"/>
<path d="M463.5,545 l2,3 l2,-2" stroke-width="0.8"/>
<path d="M470,552 Q470,548.2 475,548.2 Q481,548.5 482.7,553 Q483,558 480,560 Q476,562 472,560 L470.5,558 L472.5,556 L469,554 Z"/>
<path d="M474,551 l0,5 M477,551 l1,6" stroke-width="0.8"/>

<!-- 103 rod -->
<path d="M401,496 Q397,495 396,492 L395.5,487 Q395,484 398,483 L517,428.5 Q524,425.5 527,428 L530.5,432 Q530,434.5 527.5,433.5 L524.5,430.5 Q521,429 517.5,431.5 L400,486 Q398.5,486.5 398.5,488 L398.5,490 Q399,493 402,493.5" stroke-width="1.1"/>
<!-- 576 nut / 575 bolt mid -->
<path d="M448.5,424 L449.5,419 Q453.5,416 457.5,419 L458.7,424 Q453.5,427 448.5,424 Z"/>
<path d="M451,419.5 l1,4 M454,419 l0,4.5" stroke-width="0.8"/>
<path d="M452,430.5 L452,446 M456.5,430.5 L456.5,446 M452,430.5 Q454,429 456.5,430.5" />
<path d="M451,446 L451,450.5 Q454.3,453 457.5,450.5 L457.5,446 Z"/>
<path d="M452.5,433 l3.5,-1 M452.5,436 l3.5,-1 M452.5,439 l3.5,-1 M452.5,442 l3.5,-1" stroke-width="0.8"/>
<!-- 515 nut -->
<circle cx="527.2" cy="457.3" r="5"/>
<path d="M525,456 l2.5,3 l2,-3 M525,459 l4,0" stroke-width="0.8"/>
<!-- 8101 plate -->
<path d="M541,428 Q540.5,425.7 543,425.7 L551.5,425.7 Q554,425.7 554.2,428 L554.2,468 Q554,470.2 551.5,470.2 L543.5,470.2 Q541,470 541,467.5 Z"/>
<path d="M543,428 L543,468" stroke-width="0.8"/>
<circle cx="548" cy="434" r="1.4" stroke-width="0.9"/>
<circle cx="548" cy="462" r="1.4" stroke-width="0.9"/>
<!-- 8101 upper (deck) posts -->
<path d="M492,410 L492,434 M495,410 L495,434 M501,408 L501,432" stroke-width="1.1"/>
<!-- dash-dot center lines -->
<path d="M443.3,413.7 L443.3,501.9 L469,492 M490.4,480.5 L490.4,571" stroke-width="1" stroke-dasharray="9,3,1.5,3"/>
<path d="M469,492 L490.4,480.5" stroke-width="1" stroke-dasharray="9,3,1.5,3"/>
<!-- SHIELD 45 -->
<g id="shield45">
<path d="M615.4,455.2 L603.6,457.7 L588.3,462 L579.8,465.4 L530.6,495.9 L513.7,531.5 L514.5,542.5" stroke-width="1.6"/>
<path d="M614.5,457.5 L588,464.5 L580.5,467.8 L532.5,497.8 L516,532 L516.5,542" stroke-width="0.9"/>
<path d="M592,462 l1,-3 l3,0 l0.5,2.5 M604,458 l0.5,-3 l3,-0.5 l0.5,3" stroke-width="0.9"/>
<path d="M615.4,455.2 Q618,455 619.7,457.7 L625.6,478.9 L630.7,481.5 L629,534.9 M613.7,458.6 L617.1,481.5 M626.5,481 L625.5,534" />
<path d="M595.1,486.6 L617.1,481.5 L626,480.5 M595.1,486.6 L571.3,533.2 L586.6,546.8 L612,541.7 L629,534.9 M597,488 L574,533" />
<path d="M600,486 l1,-2.5 l4,-1 l1,2 M620,481.5 l1,-2.5 l3,0.5" stroke-width="0.9"/>
<path d="M500.1,543.4 L500.3,548.8 L515.4,544.2 Q530,540.5 545.9,541.7 Q560,542.5 571.3,545.1 Q582,548.5 590,553.6 Q599,559 605.3,567.1 L613.7,579 L617.1,579 L617.1,555.3 L612,541.7"/>
<path d="M500.1,543.4 L503,540 L506,541 L507,538.5 L510,539.5 L511,537.5 L514.5,537.5 M503,541 l0,5 M507,540 l0,5 M511,539 l0,5" stroke-width="0.9"/>
<path d="M527.2,537.5 Q550,536 573,539.1 M527.2,537.5 L579,515.4" stroke-width="0.9"/>
<path d="M574.7,533.2 L601.9,533.2 L612,541.7 L586.6,547.6 Z"/>
<circle cx="586.6" cy="537.8" r="4.5"/>
<path d="M584,537 q2.5,2 5,0" stroke-width="0.8"/>
<path d="M606.5,548 L606.5,566 M609,545 L609,568" stroke-width="0.9"/>
<path d="M630.7,496.7 L635.8,496.7 L662.1,516.2 L657.8,518 L664.6,520.5 L673.1,524.7 L669.7,529.8 L661.2,528.1 L644.3,524.7 L630.7,529.8"/>
<path d="M659,519 L662,524 L667,524.5 M665,526 l2,3" stroke-width="0.9"/>
<path d="M630,531.4 Q645,526 661.2,526" stroke-width="0.9"/>
<path d="M617.1,555.3 L621,553.6 Q626,553 627.3,557 Q627.5,562 622,563.7 L617.1,563"/>
<circle cx="622.6" cy="558.4" r="2.2" stroke-width="0.9"/>
</g>

<!-- 504 mid screw -->
<path d="M584.8,560 L584.8,571.5 M588.5,560 L588.5,571.5 M584.8,560 Q586.6,558 588.5,560" />
<path d="M583.3,571.5 L583.3,574 Q586.6,576.5 590,574 L590,571.5 Z"/>
<path d="M585.3,563 l3,-1 M585.3,566 l3,-1 M585.3,569 l3,-1" stroke-width="0.8"/>

<!-- 47 -->
<g id="p47">
<!-- right arc body -->
<path d="M622.6,594 L626.6,601.9 Q632.5,606 631.5,612 Q631,619 630.5,622.7 Q628,628 624.6,631.7 Q620,636 614.6,638.6 L609.7,641.6 L604,640 L606.7,619.7 L619,614 Q624,607 622.6,603.8" fill="#fff"/>
<path d="M624,606 Q628,615 624,624 Q619,632 611,637" stroke-width="0.9"/>
<!-- top bars -->
<path d="M573.9,607.8 L621.6,586 L623.6,593.9 L580.8,612.8 Z" fill="#fff" stroke-width="1.2"/>
<path d="M576,609.5 L622,589.5" stroke-width="0.8"/>
<path d="M578.9,619.7 L622.6,603.8 M580.8,624.7 L606.7,615.5 M606.7,614 Q609,619 614,618 L619.6,608" stroke-width="1"/>
<!-- left post -->
<path d="M565,604.8 L567.9,604.8 L568.5,608 L573.9,607.8 L580.8,612.8 L579.9,627.7 L576.9,630.7 L564.4,619.7 Z" fill="#fff" stroke-width="1.2"/>
<path d="M567,607 L566.5,619 M576.5,611 L576.5,629 M569,622 L576,628" stroke-width="0.9"/>
<!-- right post -->
<path d="M618.6,586.5 L619.5,601 M627.6,589 L627,600" stroke-width="1.1"/>
<circle cx="624" cy="586.5" r="3.8" fill="#fff" stroke-width="1.1"/>
<path d="M617.5,584 L618,580.5" stroke-width="0.9"/>
<!-- strut and tab -->
<path d="M599.7,621 L602,640 L606.7,639 L605.5,619.5" stroke-width="1.1"/>
<path d="M594.8,646 L603,641.6 L610.7,643 L610,648 L597,653.5 L594.8,651 Z" fill="#fff" stroke-width="1.1"/>
<path d="M597,648 l6,-3 M601,644 q3,-1 4,1" stroke-width="0.8"/>
<path d="M603,632 Q606,629 609,632 Q609,636 605.5,636" stroke-width="0.9"/>
</g>
<!-- 504 bottom screw -->
<path d="M608.8,654 L608.8,666 M612.2,654 L612.2,666 M608.8,654 Q610.5,652.5 612.2,654" />
<ellipse cx="610.5" cy="667" rx="3.6" ry="2.5"/>
<path d="M609,657 l3,-1 M609,660 l3,-1 M609,663 l3,-1" stroke-width="0.8"/>

<!-- 45 plate (catcher flap) -->
<g id="plate45">
<path d="M678,564.5 Q678,559 681.9,558.8 L710,555 L747.8,584.3 Q749.5,587 745.9,588 L725.2,590.9 L698.8,590.9 L685.6,581.4 Z"/>
<path d="M683,565 L704,561 L739,585.5 L700,588 Z" stroke-width="0.9"/>
<path d="M684,567 L702,583 M686.5,565.5 L704,581" stroke-width="1"/>
<path d="M689,563 L706,559.5" stroke-width="1.6"/>
<path d="M695,561 l0,-3 M702,559 l0,-3 M706,589 l0,-2 M715,589 l0,-2 M725,588 l0,-2" stroke-width="0.8"/>
</g>

<!-- 58 knob, 517 -->
<ellipse cx="489.3" cy="584.5" rx="9.5" ry="4"/>
<ellipse cx="489.3" cy="584.3" rx="5.5" ry="2.2" stroke-width="0.9"/>
<path d="M479.8,584.5 L480,595 Q489.3,601 498.8,595 L498.8,584.5"/>
<path d="M482.5,589 L482.5,596 M485.5,589.5 L485.5,598 M489,590 L489,598.5 M492.5,589.5 L492.5,598 M495.5,589 L495.5,596.5 M480,589 Q489.3,593 498.8,589" stroke-width="0.9"/>
<rect x="499.2" y="575.5" width="2.6" height="5.6" rx="1.2" stroke-width="0.9"/>

<!-- 57 fan -->
<g id="fan57">
<path d="M446.8,631.5 L447.3,644.7 A42,21 0 0 0 531.3,644.7 L531.8,631.5" fill="#fff"/>
<ellipse cx="489.3" cy="631.5" rx="42.5" ry="23.5" fill="#fff" stroke-width="1"/>
<path d="M501.3,627.6 L530.1,628.7 L530.1,634.7 L501.0,628.6 M500.1,629.9 L524.8,637.1 L524.8,643.1 L499.1,630.8 M497.3,631.8 L514.1,643.7 L514.1,649.7 L495.7,632.4 M493.3,633.0 L499.6,647.6 L499.6,653.6 L491.3,633.2 M488.7,633.3 L483.6,648.1 L483.6,654.1 L486.6,633.1 M484.1,632.7 L468.4,645.1 L468.4,651.1 L482.3,632.2 M480.4,631.3 L456.4,639.2 L456.4,645.2 L479.1,630.5 M478.0,629.3 L449.4,631.2 L449.4,637.2 L477.5,628.3 M477.3,627.0 L448.5,622.3 L448.5,628.3 L477.6,626.0 M478.5,624.7 L453.8,613.9 L453.8,619.9 L479.5,623.8 M481.3,622.8 L464.5,607.3 L464.5,613.3 L482.9,622.2 M485.3,621.6 L479.0,603.4 L479.0,609.4 L487.3,621.4 M489.9,621.3 L495.0,602.9 L495.0,608.9 L492.0,621.5 M494.5,621.9 L510.2,605.9 L510.2,611.9 L496.3,622.4 M498.2,623.3 L522.2,611.8 L522.2,617.8 L499.5,624.1 M500.6,625.3 L529.2,619.8 L529.2,625.8 L501.1,626.3" fill="#fff" stroke-width="0.85"/>
<ellipse cx="489.3" cy="627.3" rx="12" ry="6" fill="#fff"/>
<ellipse cx="489.3" cy="627.3" rx="8" ry="3.8" stroke-width="1"/>
<path d="M485,625 L485,630 M488,624.5 L488,630.5 M491,624.5 L491,630.5 M494,625 L494,630" stroke-width="0.9"/>
</g>

<!-- BLADE 55 -->
<g id="blade55">
<path d="M289.4,601.4 Q305,600 320.2,597.1 L345.9,619.4 L359.6,623.7 Q365,628 366.4,634.8 Q374,648 383.6,656.2 L400.7,649.3 L413.5,661.3 Q413,666 411,669 Q398,678 381,685.3 Q370,675 359.6,662.2 Q348,650 335.6,643.4 Q329,641 327,638.2 Q323,631 321.9,626.2 Q318,619 313.4,616 Q308,615.5 303.1,616.8 Q298,614 295.4,610.8 Z"/>
<path d="M292,604 Q296,611 304,613.5 M404,652 L412,660 L410,667 M380,682 Q395,676 409,667 M368,660 L378,675" stroke-width="0.8"/>
<ellipse cx="345.9" cy="633" rx="18.8" ry="11"/>
<path d="M329,627 Q335,619.5 347,619.5 Q359,620.5 364,627" stroke-width="0.8"/>
<ellipse cx="345.9" cy="632" rx="4" ry="2" />
</g>
<!-- washers -->
<ellipse cx="345.9" cy="666.5" rx="8.9" ry="6"/>
<ellipse cx="345.9" cy="665.8" rx="4" ry="2" stroke-width="0.9"/>
<path d="M337,667 Q337.5,671.5 345.9,673 Q354.3,671.5 354.8,667" stroke-width="0.9"/>
<ellipse cx="345.9" cy="680.2" rx="8.9" ry="6"/>
<ellipse cx="345.9" cy="679.5" rx="3.5" ry="2" stroke-width="0.9"/>
<path d="M343,678 l3,2 l3,-1" stroke-width="0.8"/>
<ellipse cx="345.9" cy="694.7" rx="8.9" ry="6"/>
<ellipse cx="345.9" cy="694" rx="4" ry="2" stroke-width="0.9"/>
<path d="M337,695.5 Q338,700 345.9,701 Q353.8,700 354.8,695.5" stroke-width="0.9"/>
<!-- 888 nut -->
<path d="M339,709 L342,706 L348,706 L351,709 L351,713 L347,716 L342,716 L339,713 Z"/>
<path d="M342,706 L343,712 M348,706 L347,712 M339,711 Q345,714 351,711" stroke-width="0.8"/>
<!-- 508 small washer -->
<ellipse cx="345" cy="725" rx="3.6" ry="2.2"/>
<!-- 509 bolt -->
<path d="M343.3,732 L343.3,741 M346.7,732 L346.7,741 M343.3,732 Q345,730.5 346.7,732"/>
<path d="M342,741 L342,744 Q345,746.5 348,744 L348,741 Z"/>

<!-- TOOLS -->
<path d="M756,683.5 L792.5,673.3 L792.5,663.5 Q793,660.5 796,660.6 Q799,660.8 799,664 L798.5,677 Q798,680 794.5,681.2 L757,691 Q754.3,691.3 753.8,688 Q753.5,684.5 756,683.5 Z" stroke-width="1.2"/>
<path d="M756.5,687 L795,677 M795.5,676 L795.8,663.5" stroke-width="0.8"/>
<circle cx="810.5" cy="716" r="7.2"/>
<circle cx="810.5" cy="716" r="3.6"/>
<path d="M816,711 L851.8,700 L853,697.5 Q858,696 861.7,699 L861,702 L857,703 L858,706 L861.5,707 Q859,711 854,710.7 L817,721.5" stroke-width="1.1"/>
<path d="M820,714 L850,705 M821,717 L851,708" stroke-width="0.8"/>

<!-- 105 / 109 / 82 assembly -->
<g id="assy105">
<!-- lever 105 -->
<path d="M726.1,470 L729.1,466.4 L755.8,440.9 Q758,438 763,438.5 L782.4,450 Q785.5,452 784.2,455.5 L780,459 L743.6,484 Q741.5,485 740,483.3 L726.7,474.8 Q724.5,472.5 726.1,470 Z"/>
<path d="M757,445.8 L781,457.5 M729.1,466.4 L742,476 L743.6,484 M742,476 L780,452" stroke-width="0.9"/>
<circle cx="777" cy="455" r="1.2" stroke-width="0.8"/>
<!-- pivot cylinder -->
<path d="M728,451 Q729,445 735,445.8 L743.6,450 M728,451 L727.5,462 M735,445.8 Q741,447 743,452" stroke-width="1"/>
<!-- 109 latch block -->
<path d="M735.2,462.7 L741.2,460.3 L751,465.2 L750.3,471.8 L743.6,474.8 L734,470 Z" fill="#fff"/>
<path d="M735.2,462.7 L744.8,467.6 L751,465.2 M744.8,467.6 L743.6,474.8" stroke-width="1"/>
<path d="M736,464.5 L744,468.5 L743,473.5 L735,469.5 Z" fill="#222" stroke-width="0.6"/>
<path d="M738.5,462 L746,465.5 M741,461 L748,464.5" stroke-width="0.8"/>
<!-- pin + knob -->
<path d="M757,479 L766,477 M766,473 L770,479 L768,483 L765,481 Z" stroke-width="1"/>
<path d="M770.3,480 Q772,472 779.5,472.4 L790,479 Q793.5,486 790,491 Q786,494 781,493 L773.5,489 Q769.5,485 770.3,480 Z"/>
<circle cx="784.1" cy="483.6" r="8" stroke-width="1"/>
<circle cx="785" cy="484.5" r="1" stroke-width="0.8"/>
<!-- frame 82 -->
<path d="M723.2,474.5 L723.5,506.4 L724.1,506.8 L737.3,501.8 M725.5,476 L725.8,505 M734.5,480.9 L734.5,498.2 L737.3,501.8"/>
<path d="M735,490.9 L777.7,515.5 M736.8,501.4 L777.7,524.5" />
<path d="M777.7,491.8 L777.7,540.9 L797.7,532.7 L789.5,490 M779.7,493 L779.7,539" />
</g>
<!-- 108 right -->
<path d="M807,499 Q810,493.5 817,494 L829,499.5 Q833,505 831,511 L825,516.5 Q819,519 813,517 L807.5,511 Q805.5,505 807,499 Z M818,494.5 Q813,499 813.5,506 Q814,513 819,517.5"/>
<path d="M822,503 l8,3 M822,506 l8,3 M822,509 l7,3 M822,512 l5,2" stroke-width="0.9"/>
<!-- 107 clip, 110 hub, 95 washer, 503 nut -->
<path d="M848,528 Q850,521 857,519.5 Q864,519 867.5,523.5 L866,528 L860,528 Q857,533 858,538.5 L853,540 L849,536.5 L850.5,533 L848,531 Z"/>
<path d="M854,525 Q852,530 854,536" stroke-width="0.9"/>
<path d="M861,536 Q860,529 866,527 L876,527.5 Q883,531 883.3,538 Q883,545 877,548.5 Q870,550.5 865,547.5 Q861,543 861,536 Z"/>
<ellipse cx="873" cy="538" rx="7" ry="8" stroke-width="0.9"/>
<path d="M866,533 L876,529 M865,538 l4,0 M871,540 q3,3 6,0" stroke-width="0.9"/>
<circle cx="887.9" cy="547.8" r="5"/>
<circle cx="887.9" cy="547.8" r="2" stroke-width="0.8"/>
<path d="M894,551 L897,550 L901,553 L900.5,556.5 L897,557.8 L893.5,556 Z"/>
<path d="M895.5,552.5 l2,2 l2,-1" stroke-width="0.8"/>
<g id="leaders">
<path d="M332.7,157.3 L360,144" stroke-width="1"/>
<path d="M545.5,68.5 L581,61.6" stroke-width="1"/>
<path d="M542,91 L581,84" stroke-width="1"/>
<path d="M549,116 L581,110" stroke-width="1"/>
<path d="M534,135 L581,126" stroke-width="1"/>
<path d="M535,145 L581,139" stroke-width="1"/>
<path d="M546,153 L581,157" stroke-width="1"/>
<path d="M547,192.5 L578,184.5" stroke-width="1"/>
<path d="M553,228.5 L580.5,210.5" stroke-width="1"/>
<path d="M552,258 L581,239.5" stroke-width="1"/>
<path d="M644,327 L657.9,299.5" stroke-width="1"/>
<path d="M635,391 L659.6,366.7" stroke-width="1"/>
<path d="M655,406 L674,374.6" stroke-width="1"/>
<path d="M742,351 L774.2,330" stroke-width="1.8"/>
<path d="M747,380 L781.5,352" stroke-width="1"/>
<path d="M779,396 L799.5,363.2" stroke-width="1"/>
<path d="M795,427 L808.4,392" stroke-width="1"/>
<path d="M299.5,423.5 L288.5,443.5" stroke-width="1"/>
<path d="M314.5,433 L301.5,465" stroke-width="1"/>
<path d="M322.4,461.6 L310.6,486" stroke-width="1"/>
<path d="M344.3,458.2 L322.7,500.3" stroke-width="1"/>
<path d="M359.5,487.3 L338.3,515.7" stroke-width="1"/>
<path d="M206.3,530 L190.8,554" stroke-width="1"/>
<path d="M246,569 L258.6,588.5" stroke-width="1"/>
<path d="M266.5,560 L258.6,588.5" stroke-width="1"/>
<path d="M430.5,427.4 L449,424" stroke-width="1"/>
<path d="M431,448.5 L451,448.5" stroke-width="1"/>
<path d="M401.4,466 L417.6,472.8" stroke-width="1.6"/>
<path d="M519.6,466.2 L516,478" stroke-width="1"/>
<path d="M401,520 L394.5,540" stroke-width="1"/>
<path d="M425,523 L407,561" stroke-width="1.8"/>
<path d="M431,548 L430,558" stroke-width="1"/>
<path d="M461,550 L446.5,577" stroke-width="1"/>
<path d="M472,562 L460,588" stroke-width="1"/>
<path d="M501,576.5 L522.7,567.5" stroke-width="1"/>
<path d="M499,588.5 L532,587" stroke-width="1"/>
<path d="M509,610 L532,604" stroke-width="1"/>
<path d="M361,623.5 L388,605" stroke-width="1"/>
<path d="M554.5,447 L582.5,436.3" stroke-width="1"/>
<path d="M617.6,455.5 L627.5,431.7" stroke-width="1"/>
<path d="M575.6,570.8 L582.5,570" stroke-width="1"/>
<path d="M686.5,582 L663,593" stroke-width="1"/>
<path d="M627,630 L643.6,643.5" stroke-width="1"/>
<path d="M614,663.5 L641,669" stroke-width="1"/>
<path d="M773.5,678 L764.7,662" stroke-width="1"/>
<path d="M826,706 L821,689.5" stroke-width="1"/>
<path d="M297,653.5 L337,665.5" stroke-width="1"/>
<path d="M297,673.5 L337,680" stroke-width="1"/>
<path d="M297,691.5 L337,694.5" stroke-width="1"/>
<path d="M297,710.5 L338,711.5" stroke-width="1"/>
<path d="M297,725 L338,725" stroke-width="1"/>
<path d="M297,740.5 L338,739" stroke-width="1"/>
<path d="M718,432 L725,407" stroke-width="1"/>
<path d="M727,447 L744,434" stroke-width="1"/>
<path d="M697.7,471 L725,471" stroke-width="1.5"/>
<path d="M695.5,488.5 L722,494" stroke-width="1"/>
<path d="M825,494.5 L837,481.5" stroke-width="1"/>
<path d="M852,540 L837.8,561" stroke-width="1"/>
<path d="M867,547 L857.6,567.5" stroke-width="1"/>
<path d="M885.6,553 L877.3,580.5" stroke-width="1"/>
<path d="M896.5,557 L891,591.7" stroke-width="1"/>
<path d="M1029,229 L1039,227" stroke-width="1"/>
<path d="M1025,249 L1040,253.5" stroke-width="1"/>
<path d="M974.3,279.3 L1041.2,288" stroke-width="1"/>
<path d="M975,299 L1041.2,303.2" stroke-width="1"/>
<path d="M1007.7,327.4 L1041.2,319.5" stroke-width="1"/>
<path d="M834.6,190.6 L857.8,216.8" stroke-width="1"/>
<path d="M426.5,246.5 L435,210" stroke-width="1"/>
<path d="M442,259 L451,221" stroke-width="1"/>
<path d="M484,221 L492,197" stroke-width="1"/>
<path d="M392,233.5 L449.5,311" stroke-width="1"/>
<path d="M350.75,249 L355.75,258" stroke-width="1"/>
<path d="M380.75,268 L381.5,278.5" stroke-width="1"/>
<path d="M332,332.25 L358.25,363.5" stroke-width="1"/>
<path d="M504.6,415.4 L544.2,403.4" stroke-width="1"/>
<path d="M686,413 L695,388" stroke-width="1"/>
</g>

</g>
<g font-family="Liberation Sans, sans-serif" font-size="11.75" fill="#000">
<text x="53.6" y="58">F 016 509 142</text>
<text x="52.5" y="73.3">Stand</text>
<text x="52.5" y="84.9">Issue</text>
<text x="97.8" y="73.5">02-01</text>
<text x="98.5" y="84.9">02-08-05</text>
</g>
<g font-family="Liberation Sans, sans-serif" font-size="12" fill="#000">
<text x="59.5" y="726.5">Änderungen vorbehalten</text>
<text x="59.5" y="740.5">Modifications reserved</text>
<text x="59.5" y="754.9">Modifications reservees</text>
<text x="59.5" y="769.1">Salvo modificaciones</text>
</g>
<path d="M97.5 63.8 L128.8 74.5 M97.5 74.5 L128.8 63.8" stroke="#000" stroke-width="1.3" fill="none"/>
<path d="M85 63.6 q4 0 4 4 v4.5 q0 2.6 4.2 3 q-4.2 0.4 -4.2 3 v4.5 q0 3.6 -4.2 3.6" stroke="#000" stroke-width="1.6" fill="none"/>
<rect x="156.7" y="63.2" width="91" height="20.9" fill="#000"/>
<text x="159.8" y="78.3" font-family="Liberation Sans, sans-serif" font-weight="bold" font-size="16.1" fill="#fff">Fig./Abb. 1</text>

<g font-family="Liberation Sans, sans-serif" font-weight="bold" font-size="15" fill="#000">
<text transform="translate(362.00 146.15) scale(1.025 1.04)">1</text>
<text transform="translate(585.40 66.15) scale(1.025 1.04)">94</text>
<text transform="translate(586.35 88.70) scale(1.025 1.04)">40/5</text>
<text transform="translate(586.25 113.80) scale(1.025 1.04)">40/3/2</text>
<text transform="translate(586.25 130.35) scale(1.025 1.04)">40/3/3</text>
<text transform="translate(585.85 144.90) scale(1.025 1.04)">40/3/1</text>
<text transform="translate(585.85 162.60) scale(1.025 1.04)">40/4</text>
<text transform="translate(584.60 188.75) scale(1.025 1.04)">40/2/1</text>
<text transform="translate(585.00 212.95) scale(1.025 1.04)">40/2/5</text>
<text transform="translate(585.00 241.60) scale(1.025 1.04)">40/2/2</text>
<text transform="translate(425.00 201.80) scale(1.025 1.04)">513</text>
<text transform="translate(443.60 218.50) scale(1.025 1.04)">511</text>
<text transform="translate(484.25 196.70) scale(1.025 1.04)">879</text>
<text transform="translate(382.25 230.75) scale(1.025 1.04)">576</text>
<text transform="translate(339.75 247.50) scale(1.025 1.04)">504</text>
<text transform="translate(367.88 267.75) scale(1.025 1.04)">111</text>
<text transform="translate(316.12 330.00) scale(1.025 1.04)">40/1</text>
<text transform="translate(539.88 399.50) scale(1.025 1.04)">8101</text>
<text transform="translate(821.00 189.30) scale(1.025 1.04)">880/1</text>
<text transform="translate(1045.00 231.35) scale(1.025 1.04)">39/24</text>
<text transform="translate(1045.60 259.90) scale(1.025 1.04)">80/3</text>
<text transform="translate(1045.40 293.05) scale(1.025 1.04)">39/25</text>
<text transform="translate(1045.40 309.05) scale(1.025 1.04)">39/23</text>
<text transform="translate(1045.45 326.50) scale(1.025 1.04)">80/4</text>
<text transform="translate(653.75 297.80) scale(1.025 1.04)">878</text>
<text transform="translate(655.00 358.05) scale(1.025 1.04)">511</text>
<text transform="translate(668.10 372.90) scale(1.025 1.04)">513</text>
<text transform="translate(690.70 386.75) scale(1.025 1.04)">106</text>
<text transform="translate(720.25 403.90) scale(1.025 1.04)">108</text>
<text transform="translate(778.70 329.80) scale(1.025 1.04)">91/1</text>
<text transform="translate(784.20 347.75) scale(1.025 1.04)">91/3</text>
<text transform="translate(797.55 361.85) scale(1.025 1.04)">91/2</text>
<text transform="translate(804.00 388.85) scale(1.025 1.04)">99</text>
<text transform="translate(740.75 431.00) scale(1.025 1.04)">105</text>
<text transform="translate(622.15 429.55) scale(1.025 1.04)">45</text>
<text transform="translate(584.05 439.40) scale(1.025 1.04)">8101</text>
<text transform="translate(401.45 436.65) scale(1.025 1.04)">576</text>
<text transform="translate(400.80 454.65) scale(1.025 1.04)">575</text>
<text transform="translate(373.15 470.95) scale(1.025 1.04)">103</text>
<text transform="translate(505.40 492.85) scale(1.025 1.04)">515</text>
<text transform="translate(268.05 457.20) scale(1.025 1.04)">102</text>
<text transform="translate(280.00 479.45) scale(1.025 1.04)">60/4</text>
<text transform="translate(291.15 500.65) scale(1.025 1.04)">60/2</text>
<text transform="translate(304.15 515.45) scale(1.025 1.04)">60/3</text>
<text transform="translate(324.60 530.00) scale(1.025 1.04)">60</text>
<text transform="translate(176.40 569.35) scale(1.025 1.04)">46</text>
<text transform="translate(247.95 603.55) scale(1.025 1.04)">504</text>
<text transform="translate(374.55 553.15) scale(1.025 1.04)">104</text>
<text transform="translate(378.55 575.05) scale(1.025 1.04)">60/3</text>
<text transform="translate(415.25 570.75) scale(1.025 1.04)">60/2</text>
<text transform="translate(417.70 590.45) scale(1.025 1.04)">60/4</text>
<text transform="translate(441.60 603.30) scale(1.025 1.04)">102</text>
<text transform="translate(387.25 603.95) scale(1.025 1.04)">55</text>
<text transform="translate(523.80 568.80) scale(1.025 1.04)">517</text>
<text transform="translate(547.35 580.70) scale(1.025 1.04)">504</text>
<text transform="translate(532.90 592.60) scale(1.025 1.04)">58</text>
<text transform="translate(533.40 609.30) scale(1.025 1.04)">57</text>
<text transform="translate(643.70 603.90) scale(1.025 1.04)">45</text>
<text transform="translate(646.25 653.05) scale(1.025 1.04)">47</text>
<text transform="translate(642.65 674.05) scale(1.025 1.04)">504</text>
<text transform="translate(669.00 476.45) scale(1.025 1.04)">109</text>
<text transform="translate(675.00 493.60) scale(1.025 1.04)">82</text>
<text transform="translate(830.45 479.55) scale(1.025 1.04)">108</text>
<text transform="translate(816.75 575.40) scale(1.025 1.04)">107</text>
<text transform="translate(842.25 580.20) scale(1.025 1.04)">110</text>
<text transform="translate(863.10 595.80) scale(1.025 1.04)">95</text>
<text transform="translate(877.85 606.95) scale(1.025 1.04)">503</text>
<text transform="translate(742.60 659.15) scale(1.025 1.04)">39/12</text>
<text transform="translate(803.15 688.15) scale(1.025 1.04)">39/11</text>
<text transform="translate(267.40 657.10) scale(1.025 1.04)">507</text>
<text transform="translate(275.90 678.30) scale(1.025 1.04)">89</text>
<text transform="translate(275.90 695.45) scale(1.025 1.04)">98</text>
<text transform="translate(267.40 714.45) scale(1.025 1.04)">888</text>
<text transform="translate(267.80 728.90) scale(1.025 1.04)">508</text>
<text transform="translate(267.80 745.30) scale(1.025 1.04)">509</text>
</g>
</svg>
</body></html>
